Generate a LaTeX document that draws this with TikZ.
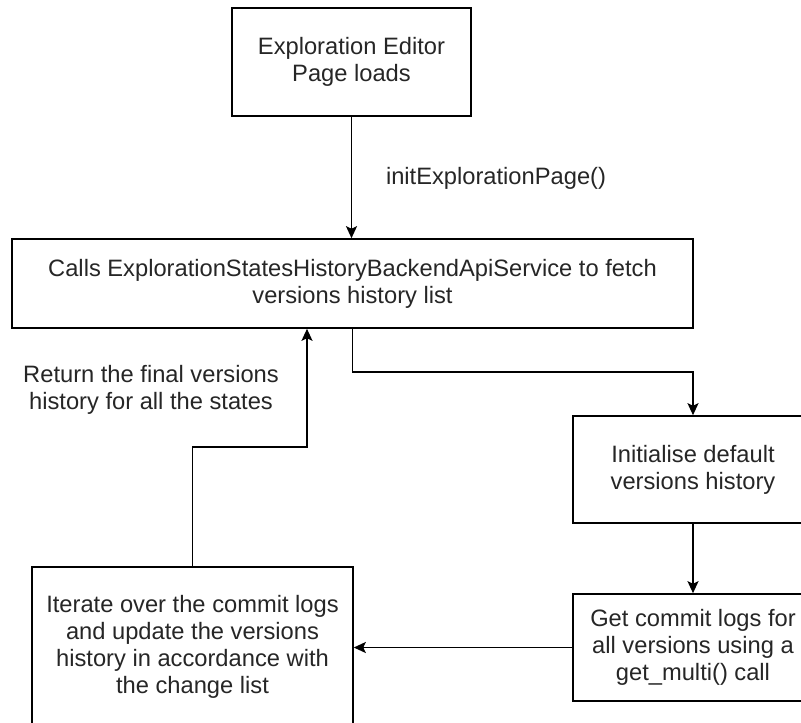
\documentclass[tikz,border=0pt]{standalone}
\usepackage{fontspec}
\setmainfont{Liberation Sans}
\usetikzlibrary{arrows.meta}
\begin{document}
\begin{tikzpicture}[x=1pt,y=-1pt,
  box/.style={draw=black,line width=1.6pt,rectangle,inner sep=0pt,align=center,
    font=\fontsize{23.7}{27}\selectfont,text=black!85},
  lbl/.style={inner sep=0pt,align=center,font=\fontsize{23.7}{27}\selectfont,text=black!85},
  conn/.style={line width=1.6pt,-{Stealth[length=12pt,width=11pt,inset=2.5pt]}}]
\useasboundingbox (0,0) rectangle (801,723);
\fill[white] (0,0) rectangle (801,723);
\node[box,minimum width=239pt,minimum height=108pt] (b1) at (351.5,62) {Exploration Editor\\Page loads};
\node[box,minimum width=681pt,minimum height=89pt] (b2) at (352.5,283.5) {Calls ExplorationStatesHistoryBackendApiService to fetch\\versions history list};
\node[box,minimum width=240pt,minimum height=107pt] (b3) at (693,469.5) {Initialise default\\versions history};
\node[box,minimum width=240pt,minimum height=107pt] (b4) at (693,647.5) {Get commit logs for\\all versions using a\\get\_multi() call};
\node[box,minimum width=321pt,minimum height=160pt] (b5) at (192.5,647) {Iterate over the commit logs\\and update the versions\\history in accordance with\\the change list};
\node[lbl] (l1) at (496,178) {initExplorationPage()};
\node[lbl] (l2) at (151,390) {Return the final versions\\history for all the states};
\coordinate (c1) at (352.5,372);
\coordinate (t1) at (192.5,447);
\coordinate (t2) at (307,447);
\draw[conn] (b1.south) -- (b1.south |- b2.north);
\draw[conn] (b2.south) -- (c1) -| (b3.north);
\draw[conn] (b3.south) -- (b4.north);
\draw[conn] (b4.west) -- (b4.west -| b5.east);
\draw[conn] (b5.north) -- (t1) -- (t2) -- (t2 |- b2.south);
\end{tikzpicture}
\end{document}
